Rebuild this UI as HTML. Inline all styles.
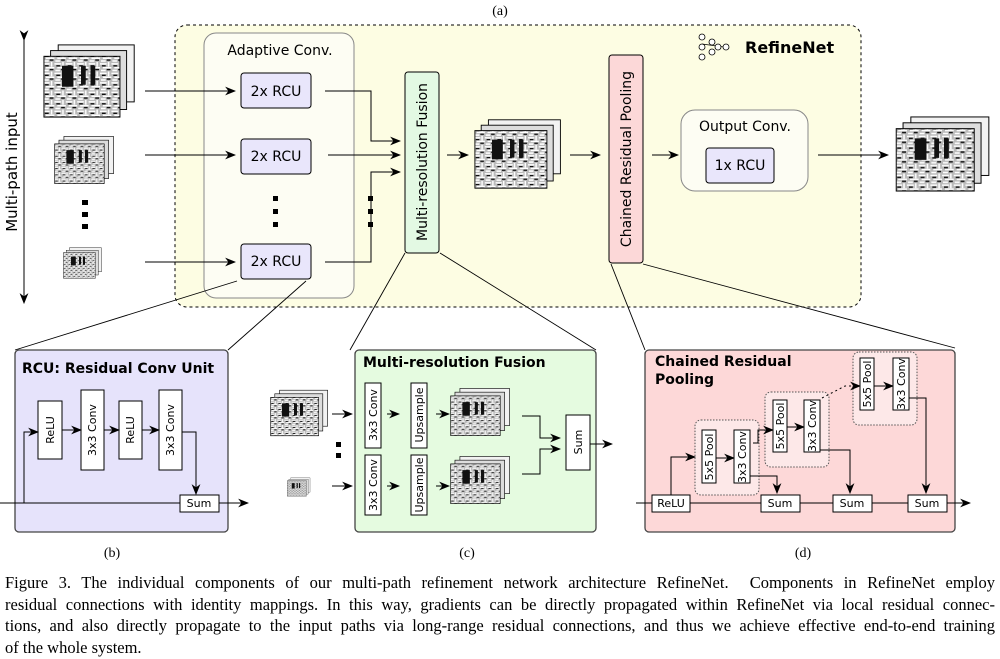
<!DOCTYPE html>
<html><head><meta charset="utf-8"><style>
body{margin:0;background:#fff;width:1000px;height:657px;overflow:hidden;position:relative}
svg{display:block}
.s{font-family:"DejaVu Sans","Liberation Sans",sans-serif}
.cap{position:absolute;left:5px;top:572px;width:990px;font-family:"Liberation Serif",serif;font-size:16.5px;line-height:21.7px;color:#000}
.cap div{text-align:justify;text-align-last:justify;white-space:nowrap}
.cap div.l{text-align-last:left}
</style></head><body>
<svg width="1000" height="657" viewBox="0 0 1000 657" xmlns="http://www.w3.org/2000/svg">
<defs>
<marker id="a" viewBox="0 0 10 10" refX="9" refY="5" markerWidth="11" markerHeight="11" orient="auto" markerUnits="userSpaceOnUse"><path d="M0,1 L10,5 L0,9 L3,5z" fill="#000"/></marker>
<pattern id="p" width="12" height="10" patternUnits="userSpaceOnUse"><rect width="12" height="10" fill="#bbb"/><path d="M0,2h7M3,6h9M1,9h5M9,0v5" stroke="#fff" stroke-width="1.6"/><path d="M2,4h4M7,8h4" stroke="#111" stroke-width="1.4"/></pattern>
<symbol id="im" viewBox="0 0 100 80"><rect x="16" y="2" width="80" height="60" fill="#f2f2f2" stroke="#000"/><rect x="8" y="8" width="80" height="62" fill="#ddd" stroke="#000"/><rect x="1" y="14" width="80" height="64" fill="url(#p)" stroke="#000"/><path d="M20,24h12v22h-12zM40,24h5v20h-5zM50,24h5v20h-5z" fill="#111"/></symbol>
</defs>
<text x="500" y="15" font-family="Liberation Serif" font-size="14" text-anchor="middle">(a)</text>
<rect x="175" y="25" width="686" height="282" rx="12" fill="#fdfde3" stroke="#000" stroke-dasharray="3,3"/>
<line x1="24" y1="40" x2="24" y2="303" stroke="#000" marker-start="url(#a)" marker-end="url(#a)"/>
<text class="s" transform="translate(17,172) rotate(-90)" font-size="15" text-anchor="middle">Multi-path input</text>
<use href="#im" x="43" y="42" width="95" height="78"/>
<use href="#im" x="54" y="135" width="62" height="50"/>
<use href="#im" x="63" y="247" width="40" height="32"/>
<g fill="#000"><rect x="82" y="200" width="6" height="5"/><rect x="82" y="212" width="6" height="5"/><rect x="82" y="224" width="6" height="5"/></g>
<rect x="204" y="33" width="150" height="265" rx="12" fill="#fdfdf3" stroke="#888"/>
<text class="s" x="280" y="55" font-size="14" text-anchor="middle">Adaptive Conv.</text>
<g stroke="#000" fill="none">
<line x1="145" y1="91" x2="235" y2="91" marker-end="url(#a)"/>
<line x1="145" y1="155" x2="235" y2="155" marker-end="url(#a)"/>
<line x1="145" y1="262" x2="235" y2="262" marker-end="url(#a)"/>
<path d="M325,91H371V141H400" marker-end="url(#a)"/>
<path d="M328,155H400" marker-end="url(#a)"/>
<path d="M325,262H371V172H400" marker-end="url(#a)"/>
</g>
<g fill="#e9e6fb" stroke="#000"><rect x="241" y="73" width="70" height="35" rx="3"/><rect x="241" y="139" width="70" height="35" rx="3"/><rect x="241" y="244" width="70" height="35" rx="3"/></g>
<g class="s" font-size="14" text-anchor="middle"><text x="276" y="96">2x RCU</text><text x="276" y="161">2x RCU</text><text x="276" y="266">2x RCU</text></g>
<g fill="#000"><rect x="273" y="196" width="5" height="5"/><rect x="273" y="209" width="5" height="5"/><rect x="273" y="222" width="5" height="5"/><rect x="368" y="196" width="5" height="5"/><rect x="368" y="209" width="5" height="5"/><rect x="368" y="222" width="5" height="5"/></g>
<rect x="405" y="72" width="34" height="181" rx="3" fill="#e3f9e3" stroke="#000"/>
<text class="s" transform="translate(427,162) rotate(-90)" font-size="14" text-anchor="middle">Multi-resolution Fusion</text>
<line x1="447" y1="155" x2="468" y2="155" stroke="#000" marker-end="url(#a)"/>
<use href="#im" x="474" y="118" width="90" height="72"/>
<line x1="570" y1="155" x2="600" y2="155" stroke="#000" marker-end="url(#a)"/>
<rect x="609" y="55" width="34" height="208" rx="3" fill="#fcd8d8" stroke="#000"/>
<text class="s" transform="translate(631,159) rotate(-90)" font-size="14" text-anchor="middle">Chained Residual Pooling</text>
<line x1="652" y1="155" x2="678" y2="155" stroke="#000" marker-end="url(#a)"/>
<rect x="681" y="110" width="127" height="81" rx="14" fill="#fdfdf3" stroke="#888"/>
<text class="s" x="745" y="131" font-size="14" text-anchor="middle">Output Conv.</text>
<rect x="706" y="148" width="68" height="35" rx="3" fill="#e9e6fb" stroke="#000"/>
<text class="s" x="740" y="170" font-size="14" text-anchor="middle">1x RCU</text>
<line x1="818" y1="155" x2="888" y2="155" stroke="#000" marker-end="url(#a)"/>
<use href="#im" x="895" y="115" width="98" height="78"/>
<g stroke="#000" fill="#fff" stroke-width="0.8"><line x1="702" y1="44" x2="724" y2="47"/><circle cx="702" cy="37" r="3"/><circle cx="702" cy="47" r="3"/><circle cx="702" cy="57" r="3"/><circle cx="712" cy="42" r="3"/><circle cx="712" cy="52" r="3"/><circle cx="718" cy="47" r="3"/><circle cx="726" cy="47" r="3"/></g>
<text class="s" x="745" y="53" font-size="16" font-weight="bold">RefineNet</text>
<g stroke="#000" stroke-width="0.9"><line x1="237" y1="281" x2="15" y2="350"/><line x1="306" y1="281" x2="228" y2="350"/><line x1="405" y1="253" x2="350" y2="350"/><line x1="440" y1="253" x2="596" y2="350"/><line x1="611" y1="264" x2="645" y2="350"/><line x1="643" y1="264" x2="955" y2="348"/></g>
<rect x="15" y="350" width="213" height="182" rx="4" fill="#e6e3fb" stroke="#444" stroke-width="1.3"/>
<text class="s" x="22" y="373" font-size="14" font-weight="bold">RCU: Residual Conv Unit</text>
<g fill="#fff" stroke="#000"><rect x="38" y="401" width="24" height="58"/><rect x="81" y="390" width="23" height="80"/><rect x="119" y="401" width="23" height="58"/><rect x="159" y="390" width="23" height="80"/><rect x="180" y="495" width="39" height="17"/></g>
<g class="s" font-size="11" text-anchor="middle"><text transform="translate(54,430) rotate(-90)">ReLU</text><text transform="translate(96,430) rotate(-90)">3x3 Conv</text><text transform="translate(134,430) rotate(-90)">ReLU</text><text transform="translate(174,430) rotate(-90)">3x3 Conv</text><text x="199" y="507">Sum</text></g>
<g stroke="#000" fill="none"><path d="M0,503H180M219,503H248" marker-end="url(#a)"/><path d="M24,503V432H38" marker-end="url(#a)"/><path d="M62,430H81" marker-end="url(#a)"/><path d="M104,430H119" marker-end="url(#a)"/><path d="M142,430H159" marker-end="url(#a)"/><path d="M182,432H196V494" marker-end="url(#a)"/></g>
<use href="#im" x="270" y="388" width="60" height="50"/>
<use href="#im" x="287" y="477" width="24" height="20"/>
<g fill="#000"><rect x="336" y="442" width="5" height="5"/><rect x="336" y="453" width="5" height="5"/></g>
<g stroke="#000"><line x1="332" y1="414" x2="352" y2="414" marker-end="url(#a)"/><line x1="332" y1="486" x2="352" y2="486" marker-end="url(#a)"/></g>
<rect x="355" y="350" width="241" height="182" rx="4" fill="#e5fbe0" stroke="#444" stroke-width="1.3"/>
<text class="s" x="363" y="367" font-size="14" font-weight="bold">Multi-resolution Fusion</text>
<g fill="#fff" stroke="#000"><rect x="365" y="383" width="16" height="65"/><rect x="365" y="455" width="16" height="60"/><rect x="411" y="383" width="16" height="65"/><rect x="411" y="455" width="16" height="60"/><rect x="566" y="415" width="24" height="55"/></g>
<g class="s" font-size="11" text-anchor="middle"><text transform="translate(377,415) rotate(-90)">3x3 Conv</text><text transform="translate(377,485) rotate(-90)">3x3 Conv</text><text transform="translate(423,415) rotate(-90)">Upsample</text><text transform="translate(423,485) rotate(-90)">Upsample</text><text transform="translate(582,442) rotate(-90)">Sum</text></g>
<use href="#im" x="450" y="387" width="62" height="50"/>
<use href="#im" x="450" y="455" width="62" height="50"/>
<g stroke="#000" fill="none"><path d="M387,414H399" marker-end="url(#a)"/><path d="M387,486H399" marker-end="url(#a)"/><path d="M436,414H449" marker-end="url(#a)"/><path d="M436,486H449" marker-end="url(#a)"/><path d="M522,416H540V438H560" marker-end="url(#a)"/><path d="M522,474H540V449H560" marker-end="url(#a)"/><path d="M590,444H612" marker-end="url(#a)"/></g>
<rect x="645" y="350" width="310" height="182" rx="4" fill="#fdd8d8" stroke="#444" stroke-width="1.3"/>
<text class="s" x="655" y="366" font-size="14" font-weight="bold">Chained Residual</text>
<text class="s" x="655" y="384" font-size="14" font-weight="bold">Pooling</text>
<g fill="#fde8e8" stroke="#555" stroke-dasharray="1.5,1.5"><rect x="695" y="420" width="64" height="75" rx="6"/><rect x="765" y="392" width="64" height="75" rx="6"/><rect x="853" y="352" width="64" height="73" rx="6"/></g>
<g stroke="#000" fill="none"><path d="M636,503H652M690,503H761M800,503H833M872,503H908"/><path d="M947,503H970" marker-end="url(#a)"/>
<path d="M671,495V457H695" marker-end="url(#a)"/><path d="M716,458H734" marker-end="url(#a)"/><path d="M787,427H804" marker-end="url(#a)"/><path d="M874,386H893" marker-end="url(#a)"/>
<path d="M750,476H777V493" marker-end="url(#a)"/><path d="M820,450H850V493" marker-end="url(#a)"/><path d="M909,398H926V493" marker-end="url(#a)"/>
<path d="M753,443H758V430H773" marker-end="url(#a)"/><path d="M822,398L845,386H860" stroke-dasharray="2,3" marker-end="url(#a)"/></g>
<g fill="#fff" stroke="#000"><rect x="652" y="495" width="38" height="17"/><rect x="761" y="495" width="39" height="17"/><rect x="833" y="495" width="39" height="17"/><rect x="908" y="495" width="39" height="17"/>
<rect x="702" y="430" width="14" height="53"/><rect x="734" y="430" width="16" height="53"/><rect x="773" y="400" width="14" height="52"/><rect x="804" y="400" width="16" height="52"/><rect x="860" y="358" width="14" height="52"/><rect x="893" y="358" width="16" height="52"/></g>
<g class="s" font-size="11" text-anchor="middle"><text x="671" y="507">ReLU</text><text x="780" y="507">Sum</text><text x="852" y="507">Sum</text><text x="927" y="507">Sum</text>
<text transform="translate(713,457) rotate(-90)">5x5 Pool</text><text transform="translate(746,457) rotate(-90)">3x3 Conv</text><text transform="translate(784,426) rotate(-90)">5x5 Pool</text><text transform="translate(816,426) rotate(-90)">3x3 Conv</text><text transform="translate(871,384) rotate(-90)">5x5 Pool</text><text transform="translate(905,384) rotate(-90)">3x3 Conv</text></g>
<g font-family="Liberation Serif" font-size="14" text-anchor="middle"><text x="112" y="557">(b)</text><text x="467" y="557">(c)</text><text x="803" y="557">(d)</text></g>
</svg>
<div class="cap">
<div>Figure 3. The individual components of our multi-path refinement network architecture RefineNet.&nbsp; Components in RefineNet employ</div>
<div>residual connections with identity mappings. In this way, gradients can be directly propagated within RefineNet via local residual connec-</div>
<div>tions, and also directly propagate to the input paths via long-range residual connections, and thus we achieve effective end-to-end training</div>
<div class="l">of the whole system.</div>
</div>
</body></html>
